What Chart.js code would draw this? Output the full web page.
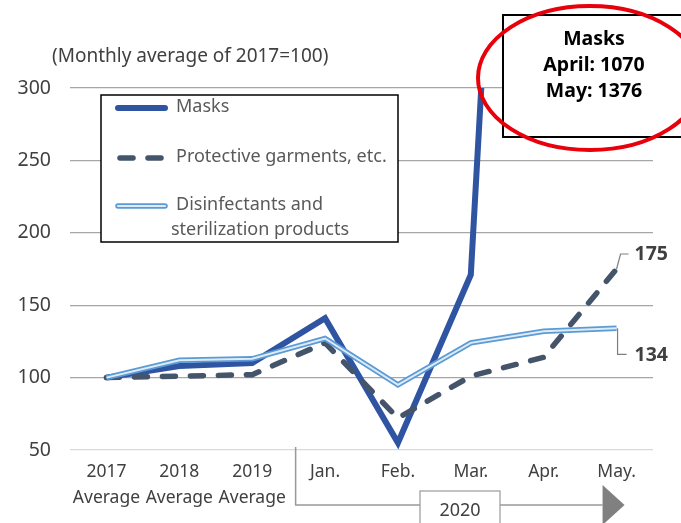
<!DOCTYPE html>
<html>
<head>
<meta charset="utf-8">
<script src="https://cdn.jsdelivr.net/npm/chart.js@4.4.0/dist/chart.umd.min.js"></script>
<style>
  html, body { margin: 0; padding: 0; background: #fff; }
  #wrap { position: relative; width: 681px; height: 523px; }
</style>
</head>
<body>
<div id="wrap"><canvas id="chart" width="681" height="523"></canvas></div>
<script>
// Index values (monthly average of 2017 = 100)
const categories = [['2017', 'Average'], ['2018', 'Average'], ['2019', 'Average'], 'Jan.', 'Feb.', 'Mar.', 'Apr.', 'May.'];
const masks = [100, 108, 110, 141, 55, 171, 1070, 1376];
const protective = [100, 101, 102, 124, 72, 101, 114, 175];
const disinfectants = [100, 112, 113, 127, 95, 124, 132, 134];
const yTicks = [50, 100, 150, 200, 250, 300];

const FONT = "'Noto Sans', 'Open Sans', sans-serif";
const TEXT = '#404040';

const MASK_COLOR = '#2f55a2';
const PROT_COLOR = '#44546a';
const DIS_OUTER = '#5b9bd5';
const DIS_INNER = '#deebf7';

// Title, legend box, value callouts, 2020 bracket and the mask note
const decorations = {
  id: 'decorations',
  afterDraw(chart) {
    const { ctx, chartArea } = chart;
    const x = chart.scales.x;
    const y = chart.scales.y;
    ctx.save();

    // unit note
    ctx.font = `19px ${FONT}`;
    ctx.fillStyle = TEXT;
    ctx.textAlign = 'left';
    ctx.textBaseline = 'middle';
    ctx.fillText('(Monthly average of 2017=100)', 52, 57);

    // legend
    const lx = 101, ly = 95, lw = 297, lh = 147;
    ctx.fillStyle = '#fff';
    ctx.fillRect(lx, ly, lw, lh);
    ctx.strokeStyle = '#000';
    ctx.lineWidth = 1.5;
    ctx.strokeRect(lx, ly, lw, lh);

    ctx.lineCap = 'round';
    ctx.strokeStyle = MASK_COLOR;
    ctx.lineWidth = 6;
    ctx.beginPath(); ctx.moveTo(118, 108); ctx.lineTo(165, 108); ctx.stroke();

    ctx.strokeStyle = PROT_COLOR;
    ctx.lineWidth = 5.5;
    ctx.setLineDash([13, 15]);
    ctx.beginPath(); ctx.moveTo(120, 158); ctx.lineTo(165, 158); ctx.stroke();
    ctx.setLineDash([]);

    ctx.strokeStyle = DIS_OUTER;
    ctx.lineWidth = 5.5;
    ctx.beginPath(); ctx.moveTo(118, 206); ctx.lineTo(165, 206); ctx.stroke();
    ctx.strokeStyle = DIS_INNER;
    ctx.lineWidth = 2;
    ctx.beginPath(); ctx.moveTo(118, 206); ctx.lineTo(165, 206); ctx.stroke();

    ctx.fillStyle = '#595959';
    ctx.font = `18px ${FONT}`;
    ctx.fillText('Masks', 176, 107);
    ctx.fillText('Protective garments, etc.', 176, 157);
    ctx.fillText('Disinfectants and', 176, 205);
    ctx.fillText('sterilization products', 171, 230);

    // value callouts for May
    const last = categories.length - 1;
    const px = x.getPixelForValue(last);
    const pProt = y.getPixelForValue(protective[last]);
    const pDis = y.getPixelForValue(disinfectants[last]);
    ctx.strokeStyle = '#7f7f7f';
    ctx.lineWidth = 1.2;
    ctx.lineCap = 'butt';
    ctx.beginPath();
    ctx.moveTo(px, pProt);
    ctx.lineTo(px + 4, pProt - 15);
    ctx.lineTo(px + 12, pProt - 15);
    ctx.stroke();
    ctx.beginPath();
    ctx.moveTo(px + 1, pDis);
    ctx.lineTo(px + 1, pDis + 26);
    ctx.lineTo(px + 10, pDis + 26);
    ctx.stroke();
    ctx.font = `bold 19.5px ${FONT}`;
    ctx.fillStyle = TEXT;
    ctx.fillText(String(protective[last]), px + 18, pProt - 15);
    ctx.fillText(String(disinfectants[last]), px + 18, pDis + 27);

    // 2020 bracket with arrow
    const bx = (x.getPixelForValue(2) + x.getPixelForValue(3)) / 2 + 7;
    const by = 505;
    const ax = x.getPixelForValue(last) - 14;
    ctx.strokeStyle = '#999';
    ctx.lineWidth = 1.5;
    ctx.beginPath();
    ctx.moveTo(bx, chartArea.bottom - 3);
    ctx.lineTo(bx, by);
    ctx.lineTo(ax, by);
    ctx.stroke();
    ctx.fillStyle = '#808080';
    ctx.beginPath();
    ctx.moveTo(ax, by - 20);
    ctx.lineTo(ax + 22, by);
    ctx.lineTo(ax, by + 20);
    ctx.closePath();
    ctx.fill();

    ctx.fillStyle = '#fff';
    ctx.fillRect(420, 491, 80, 40);
    ctx.strokeStyle = '#999';
    ctx.lineWidth = 1.2;
    ctx.strokeRect(420, 491, 80, 40);
    ctx.fillStyle = TEXT;
    ctx.font = `18px ${FONT}`;
    ctx.textAlign = 'center';
    ctx.fillText('2020', 460, 511);

    // mask values beyond the axis
    ctx.fillStyle = '#fff';
    ctx.fillRect(503, 15, 180, 122);
    ctx.strokeStyle = '#000';
    ctx.lineWidth = 2;
    ctx.strokeRect(503, 15, 180, 122);
    ctx.fillStyle = '#000';
    ctx.font = `bold 19.5px ${FONT}`;
    ctx.fillText('Masks', 594, 39);
    ctx.fillText('April: ' + masks[6], 594, 65);
    ctx.fillText('May: ' + masks[7], 594, 91);

    ctx.strokeStyle = '#e8000b';
    ctx.lineWidth = 4;
    ctx.beginPath();
    ctx.ellipse(590, 78, 112, 72, 0, 0, Math.PI * 2);
    ctx.stroke();

    ctx.restore();
  }
};

new Chart(document.getElementById('chart'), {
  type: 'line',
  data: {
    labels: categories,
    datasets: [
      {
        label: 'Masks',
        data: masks,
        borderColor: MASK_COLOR,
        borderWidth: 6,
        order: 3
      },
      {
        label: 'Protective garments, etc.',
        data: protective,
        borderColor: PROT_COLOR,
        borderWidth: 5.5,
        borderDash: [13, 15],
        borderCapStyle: 'round',
        order: 2
      },
      {
        label: 'Disinfectants and sterilization products',
        data: disinfectants,
        borderColor: DIS_OUTER,
        borderWidth: 5.5,
        order: 1
      },
      {
        label: 'inner',
        data: disinfectants,
        borderColor: DIS_INNER,
        borderWidth: 2,
        order: 0
      }
    ]
  },
  options: {
    responsive: false,
    animation: false,
    events: [],
    elements: {
      point: { radius: 0 },
      line: { tension: 0, fill: false }
    },
    layout: { padding: { top: 88, right: 28, left: 0, bottom: 0 } },
    plugins: {
      legend: { display: false },
      tooltip: { enabled: false }
    },
    scales: {
      x: {
        offset: true,
        grid: { display: false, drawTicks: false },
        border: { display: false },
        ticks: {
          color: TEXT,
          font: { family: FONT, size: 17.5, lineHeight: 1.5 },
          padding: 9,
          maxRotation: 0,
          autoSkip: false
        },
        afterFit(scale) { scale.height = 73; }
      },
      y: {
        min: 50,
        max: 300,
        afterBuildTicks(scale) { scale.ticks = yTicks.map(v => ({ value: v })); },
        grid: {
          drawTicks: false,
          lineWidth: 1.3,
          color: ctx => ctx.tick && ctx.tick.value === 50 ? '#d9d9d9' : '#a6a6a6'
        },
        border: { display: false },
        ticks: {
          color: TEXT,
          font: { family: FONT, size: 19.5 },
          padding: 19
        },
        afterFit(scale) { scale.width = 70; }
      }
    }
  },
  plugins: [decorations]
});
</script>
</body>
</html>
